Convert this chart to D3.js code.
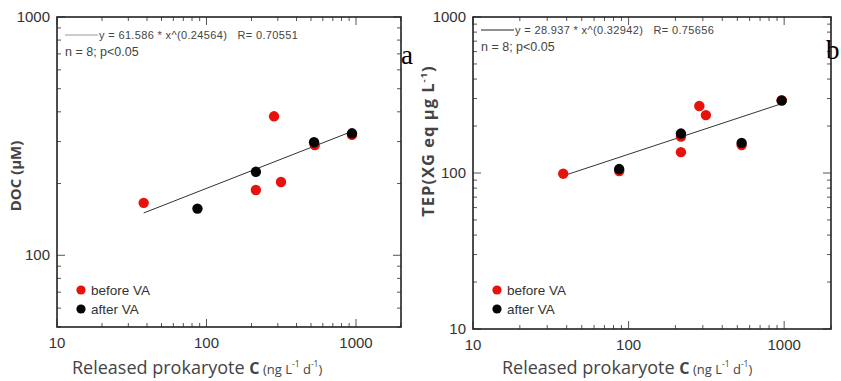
<!DOCTYPE html>
<html>
<head>
<meta charset="utf-8">
<script src="https://cdn.jsdelivr.net/npm/d3@7"></script>
<style>
  html, body { margin: 0; padding: 0; background: #fff; }
  svg { display: block; }
  .tick-num { font-family: "Liberation Sans", Arial, sans-serif; font-size: 15px; fill: #333; }
  .fit-text { font-family: "Liberation Sans", Arial, sans-serif; font-size: 11px; fill: #444; letter-spacing: 0.35px; }
  .n-text { font-family: "Liberation Sans", Arial, sans-serif; font-size: 12.5px; fill: #444; }
  .leg-text { font-family: "Liberation Sans", Arial, sans-serif; font-size: 13.5px; fill: #333; }
  .axis-title { font-family: "Open Sans", "Noto Sans", sans-serif; fill: #444; }
  .panel-tag { font-family: "Liberation Serif", "Times New Roman", serif; font-size: 27px; fill: #000; }
</style>
</head>
<body>
<svg id="chart" width="841" height="381"></svg>
<script>
// Released prokaryote carbon (ng L-1 d-1) and DOC (µM), panel a
const docBeforeX = [38, 214, 283, 315, 530, 940];
const docBeforeY = [166, 188, 383, 203, 290, 320];
const docAfterX = [87, 214, 524, 940];
const docAfterY = [157, 224, 298, 325];

// Released prokaryote carbon and TEP (µg XG eq L-1), panel b
const tepBeforeX = [38, 87, 217, 217, 285, 314, 533, 964];
const tepBeforeY = [99, 103, 171, 136, 269, 235, 151, 293];
const tepAfterX = [87, 217, 533, 964];
const tepAfterY = [106, 179, 156, 291];

// Power-law fits y = a * x^b
const fitA = { a: 61.586, b: 0.24564, r: 0.70551, xFrom: 38, xTo: 940 };
const fitB = { a: 28.937, b: 0.32942, r: 0.75656, xFrom: 38, xTo: 964 };

const xTickLabels = [10, 100, 1000];
const yTickLabelsA = [100, 1000];
const yTickLabelsB = [10, 100, 1000];
const seriesNames = ["before VA", "after VA"];
const seriesColors = ["#e8120c", "#050505"];

const svg = d3.select("#chart");

function minorTicks(domain) {
  const out = [];
  const lo = Math.floor(Math.log10(domain[0]));
  const hi = Math.ceil(Math.log10(domain[1]));
  for (let e = lo; e <= hi; e++) {
    for (let m = 1; m < 10; m++) {
      const v = m * Math.pow(10, e);
      if (v >= domain[0] - 1e-9 && v <= domain[1] + 1e-9) out.push(v);
    }
  }
  return out;
}

function panel(cfg) {
  const g = svg.append("g");
  const x = d3.scaleLog().domain(cfg.xDomain).range(cfg.xRange);
  const y = d3.scaleLog().domain(cfg.yDomain).range(cfg.yRange);
  const [x0, x1] = cfg.xRange;
  const [y0, y1] = cfg.yRange; // y0 bottom, y1 top

  // inward ticks on all four sides
  const xMinor = minorTicks(cfg.xDomain);
  const yMinor = minorTicks(cfg.yDomain);
  const isMajor = v => Math.abs(Math.log10(v) - Math.round(Math.log10(v))) < 1e-9;
  const tk = g.append("g").attr("stroke", "#555").attr("stroke-width", 1);
  xMinor.forEach(v => {
    const L = isMajor(v) ? 8 : 4;
    tk.append("line").attr("x1", x(v)).attr("x2", x(v)).attr("y1", y0).attr("y2", y0 - L);
    tk.append("line").attr("x1", x(v)).attr("x2", x(v)).attr("y1", y1).attr("y2", y1 + L);
  });
  yMinor.forEach(v => {
    const L = isMajor(v) ? 8 : 4;
    tk.append("line").attr("x1", x0).attr("x2", x0 + L).attr("y1", y(v)).attr("y2", y(v));
    tk.append("line").attr("x1", x1).attr("x2", x1 - L).attr("y1", y(v)).attr("y2", y(v));
  });

  // frame
  g.append("rect")
    .attr("x", x0).attr("y", y1)
    .attr("width", x1 - x0).attr("height", y0 - y1)
    .attr("fill", "none").attr("stroke", "#222").attr("stroke-width", 1.6);

  // tick labels
  g.selectAll(".xl").data(xTickLabels).join("text")
    .attr("class", "tick-num")
    .attr("x", d => x(d)).attr("y", y0 + 21)
    .attr("text-anchor", "middle")
    .text(d => d);
  g.selectAll(".yl").data(cfg.yLabels).join("text")
    .attr("class", "tick-num")
    .attr("x", x0 - 7).attr("y", d => y(d) + 5)
    .attr("text-anchor", "end")
    .text(d => d);

  // fit line
  const f = cfg.fit;
  const fitPts = [f.xFrom, f.xTo].map(v => [x(v), y(f.a * Math.pow(v, f.b))]);
  g.append("path")
    .attr("d", d3.line()(fitPts))
    .attr("fill", "none").attr("stroke", "#333").attr("stroke-width", 1);

  // points: before (red) under after (black)
  const groups = [
    { xs: cfg.beforeX, ys: cfg.beforeY, c: seriesColors[0] },
    { xs: cfg.afterX, ys: cfg.afterY, c: seriesColors[1] }
  ];
  groups.forEach(s => {
    g.selectAll(null).data(s.xs.map((v, i) => [v, s.ys[i]])).join("circle")
      .attr("cx", d => x(d[0])).attr("cy", d => y(d[1]))
      .attr("r", 5.2).attr("fill", s.c);
  });

  // fit legend
  const lx = x0 + 8;
  g.append("line")
    .attr("x1", lx).attr("x2", lx + 33)
    .attr("y1", cfg.fitLegendY).attr("y2", cfg.fitLegendY)
    .attr("stroke", cfg.fitLegendStroke).attr("stroke-width", 1);
  g.append("text").attr("class", "fit-text")
    .attr("x", lx + 34).attr("y", cfg.fitLegendY + 4)
    .attr("xml:space", "preserve")
    .text(`y = ${f.a} * x^(${f.b})   R= ${f.r}`);
  g.append("text").attr("class", "n-text")
    .attr("x", lx).attr("y", cfg.fitLegendY + 21)
    .text("n = 8; p<0.05");

  // series legend
  seriesNames.forEach((name, i) => {
    const cy = cfg.legendY + i * 19;
    g.append("circle").attr("cx", x0 + 24).attr("cy", cy).attr("r", 4.6).attr("fill", seriesColors[i]);
    g.append("text").attr("class", "leg-text")
      .attr("x", x0 + 34).attr("y", cy + 5).text(name);
  });

  // x title
  const xt = g.append("text").attr("class", "axis-title")
    .attr("x", cfg.xTitleX).attr("y", 374);
  xt.append("tspan").attr("font-size", "18px").text("Released prokaryote ");
  xt.append("tspan").attr("font-size", "16px").attr("font-weight", "bold").text("C");
  xt.append("tspan").attr("font-size", "13px").text(" (ng L");
  xt.append("tspan").attr("font-size", "8.5px").attr("dy", -7).text("-1");
  xt.append("tspan").attr("font-size", "13px").attr("dy", 7).text(" d");
  xt.append("tspan").attr("font-size", "8.5px").attr("dy", -7).text("-1");
  xt.append("tspan").attr("font-size", "13px").attr("dy", 7).text(")");

  // panel tag
  g.append("text").attr("class", "panel-tag")
    .attr("x", cfg.tagX).attr("y", cfg.tagY).text(cfg.tag);

  return g;
}

const gA = panel({
  xDomain: [10, 2000], xRange: [57, 401],
  yDomain: [50, 1000], yRange: [327, 17],
  yLabels: yTickLabelsA, fit: fitA,
  beforeX: docBeforeX, beforeY: docBeforeY, afterX: docAfterX, afterY: docAfterY,
  fitLegendY: 35, fitLegendStroke: "#999", legendY: 290,
  xTitleX: 72, tag: "a", tagX: 401, tagY: 64
});
gA.append("text").attr("class", "axis-title")
  .attr("transform", "translate(21,176) rotate(-90)")
  .attr("text-anchor", "middle")
  .attr("font-size", "15px").attr("font-weight", "bold")
  .text("DOC (µM)");

const gB = panel({
  xDomain: [10, 2000], xRange: [473, 831],
  yDomain: [10, 1000], yRange: [329, 17],
  yLabels: yTickLabelsB, fit: fitB,
  beforeX: tepBeforeX, beforeY: tepBeforeY, afterX: tepAfterX, afterY: tepAfterY,
  fitLegendY: 30, fitLegendStroke: "#222", legendY: 290,
  xTitleX: 502, tag: "b", tagX: 826, tagY: 59
});
const yt = gB.append("text").attr("class", "axis-title")
  .attr("transform", "translate(434,141) rotate(-90)")
  .attr("text-anchor", "middle")
  .attr("font-size", "16.5px").attr("font-weight", "bold")
  .attr("letter-spacing", "1px");
yt.append("tspan").text("TEP(XG eq µg L");
yt.append("tspan").attr("font-size", "9.5px").attr("dy", -7).text("-1");
yt.append("tspan").attr("dy", 7).text(")");
</script>
</body>
</html>
